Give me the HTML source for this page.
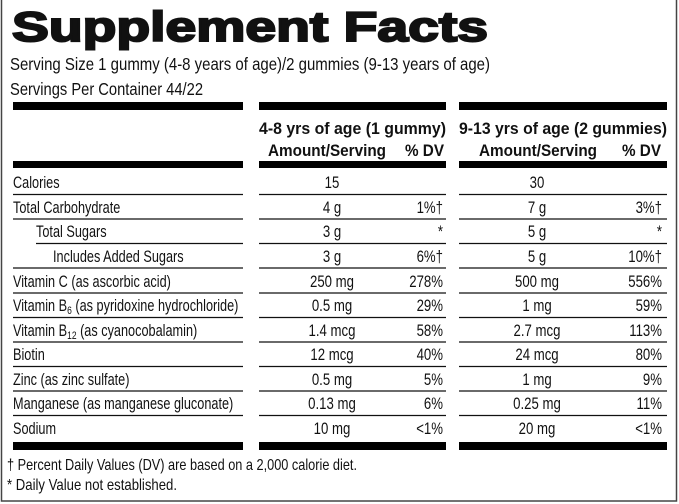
<!DOCTYPE html>
<html><head><meta charset="utf-8"><style>
html,body{margin:0;padding:0;background:#fff;}
svg{display:block;}
text{font-family:"Liberation Sans",sans-serif;fill:#111;}
</style></head><body>
<svg width="679" height="504" viewBox="0 0 679 504" xmlns="http://www.w3.org/2000/svg">
<rect x="1.5" y="-2" width="675" height="503" fill="none" stroke="#444" stroke-width="1.5"/>
<text x="12" y="41" font-size="42" font-weight="bold" stroke="#111" stroke-width="2" textLength="476" lengthAdjust="spacingAndGlyphs">Supplement Facts</text>
<text x="10" y="70" font-size="17.5" textLength="480" lengthAdjust="spacingAndGlyphs">Serving Size 1 gummy (4-8 years of age)/2 gummies (9-13 years of age)</text>
<text x="10" y="95" font-size="17.5" textLength="193" lengthAdjust="spacingAndGlyphs">Servings Per Container 44/22</text>
<g fill="#000">
<rect x="13" y="102" width="230" height="8"/><rect x="259" y="102" width="187" height="8"/><rect x="459" y="102" width="208" height="8"/>
<rect x="13" y="161" width="230" height="7"/><rect x="259" y="161" width="187" height="7"/><rect x="459" y="161" width="208" height="7"/>
<rect x="13" y="442" width="230" height="8"/><rect x="259" y="442" width="187" height="8"/><rect x="459" y="442" width="208" height="8"/>
</g>
<g font-weight="bold" font-size="17">
<text x="259" y="134" textLength="187" lengthAdjust="spacingAndGlyphs">4-8 yrs of age (1 gummy)</text>
<text x="268" y="156" textLength="118" lengthAdjust="spacingAndGlyphs">Amount/Serving</text>
<text x="405" y="156" textLength="39" lengthAdjust="spacingAndGlyphs">% DV</text>
<text x="459" y="134" textLength="208" lengthAdjust="spacingAndGlyphs">9-13 yrs of age (2 gummies)</text>
<text x="479" y="156" textLength="118" lengthAdjust="spacingAndGlyphs">Amount/Serving</text>
<text x="622" y="156" textLength="39" lengthAdjust="spacingAndGlyphs">% DV</text>
</g>
<g stroke="#111" stroke-width="1.3">
<path d="M13 194.5H243M259 194.5H446M459 194.5H667"/>
<path d="M13 219H243M259 219H446M459 219H667"/>
<path d="M36 243.5H243M259 243.5H446M459 243.5H667"/>
<path d="M13 268H243M259 268H446M459 268H667"/>
<path d="M13 293H243M259 293H446M459 293H667"/>
<path d="M13 317.5H243M259 317.5H446M459 317.5H667"/>
<path d="M13 342H243M259 342H446M459 342H667"/>
<path d="M13 366.5H243M259 366.5H446M459 366.5H667"/>
<path d="M13 391H243M259 391H446M459 391H667"/>
<path d="M13 415.5H243M259 415.5H446M459 415.5H667"/>
</g>
<g font-size="16.5">
<text transform="translate(13,188) scale(.77,1)">Calories</text>
<text transform="translate(13,213) scale(.77,1)">Total Carbohydrate</text>
<text transform="translate(36,237) scale(.77,1)">Total Sugars</text>
<text transform="translate(53,262) scale(.77,1)">Includes Added Sugars</text>
<text transform="translate(13,287) scale(.77,1)">Vitamin C (as ascorbic acid)</text>
<text transform="translate(13,311) scale(.77,1)">Vitamin B<tspan font-size="11" dy="3">6</tspan><tspan dy="-3"> (as pyridoxine hydrochloride)</tspan></text>
<text transform="translate(13,336) scale(.77,1)">Vitamin B<tspan font-size="11" dy="3">12</tspan><tspan dy="-3"> (as cyanocobalamin)</tspan></text>
<text transform="translate(13,360) scale(.77,1)">Biotin</text>
<text transform="translate(13,385) scale(.77,1)">Zinc (as zinc sulfate)</text>
<text transform="translate(13,409) scale(.77,1)">Manganese (as manganese gluconate)</text>
<text transform="translate(13,434) scale(.77,1)">Sodium</text>
</g>
<g font-size="16.5" text-anchor="middle">
<text transform="translate(332,188) scale(.8,1)">15</text>
<text transform="translate(332,213) scale(.8,1)">4 g</text>
<text transform="translate(332,237) scale(.8,1)">3 g</text>
<text transform="translate(332,262) scale(.8,1)">3 g</text>
<text transform="translate(332,287) scale(.8,1)">250 mg</text>
<text transform="translate(332,311) scale(.8,1)">0.5 mg</text>
<text transform="translate(332,336) scale(.8,1)">1.4 mcg</text>
<text transform="translate(332,360) scale(.8,1)">12 mcg</text>
<text transform="translate(332,385) scale(.8,1)">0.5 mg</text>
<text transform="translate(332,409) scale(.8,1)">0.13 mg</text>
<text transform="translate(332,434) scale(.8,1)">10 mg</text>
<text transform="translate(537,188) scale(.8,1)">30</text>
<text transform="translate(537,213) scale(.8,1)">7 g</text>
<text transform="translate(537,237) scale(.8,1)">5 g</text>
<text transform="translate(537,262) scale(.8,1)">5 g</text>
<text transform="translate(537,287) scale(.8,1)">500 mg</text>
<text transform="translate(537,311) scale(.8,1)">1 mg</text>
<text transform="translate(537,336) scale(.8,1)">2.7 mcg</text>
<text transform="translate(537,360) scale(.8,1)">24 mcg</text>
<text transform="translate(537,385) scale(.8,1)">1 mg</text>
<text transform="translate(537,409) scale(.8,1)">0.25 mg</text>
<text transform="translate(537,434) scale(.8,1)">20 mg</text>
</g>
<g font-size="16.5" text-anchor="end">
<text transform="translate(443,213) scale(.8,1)">1%†</text>
<text transform="translate(443,237) scale(.8,1)">*</text>
<text transform="translate(443,262) scale(.8,1)">6%†</text>
<text transform="translate(443,287) scale(.8,1)">278%</text>
<text transform="translate(443,311) scale(.8,1)">29%</text>
<text transform="translate(443,336) scale(.8,1)">58%</text>
<text transform="translate(443,360) scale(.8,1)">40%</text>
<text transform="translate(443,385) scale(.8,1)">5%</text>
<text transform="translate(443,409) scale(.8,1)">6%</text>
<text transform="translate(443,434) scale(.8,1)">&lt;1%</text>
<text transform="translate(662,213) scale(.8,1)">3%†</text>
<text transform="translate(662,237) scale(.8,1)">*</text>
<text transform="translate(662,262) scale(.8,1)">10%†</text>
<text transform="translate(662,287) scale(.8,1)">556%</text>
<text transform="translate(662,311) scale(.8,1)">59%</text>
<text transform="translate(662,336) scale(.8,1)">113%</text>
<text transform="translate(662,360) scale(.8,1)">80%</text>
<text transform="translate(662,385) scale(.8,1)">9%</text>
<text transform="translate(662,409) scale(.8,1)">11%</text>
<text transform="translate(662,434) scale(.8,1)">&lt;1%</text>
</g>
<text x="7" y="470" font-size="16" textLength="350" lengthAdjust="spacingAndGlyphs">† Percent Daily Values (DV) are based on a 2,000 calorie diet.</text>
<text x="7" y="490" font-size="16" textLength="170" lengthAdjust="spacingAndGlyphs">* Daily Value not established.</text>
</svg>
</body></html>
